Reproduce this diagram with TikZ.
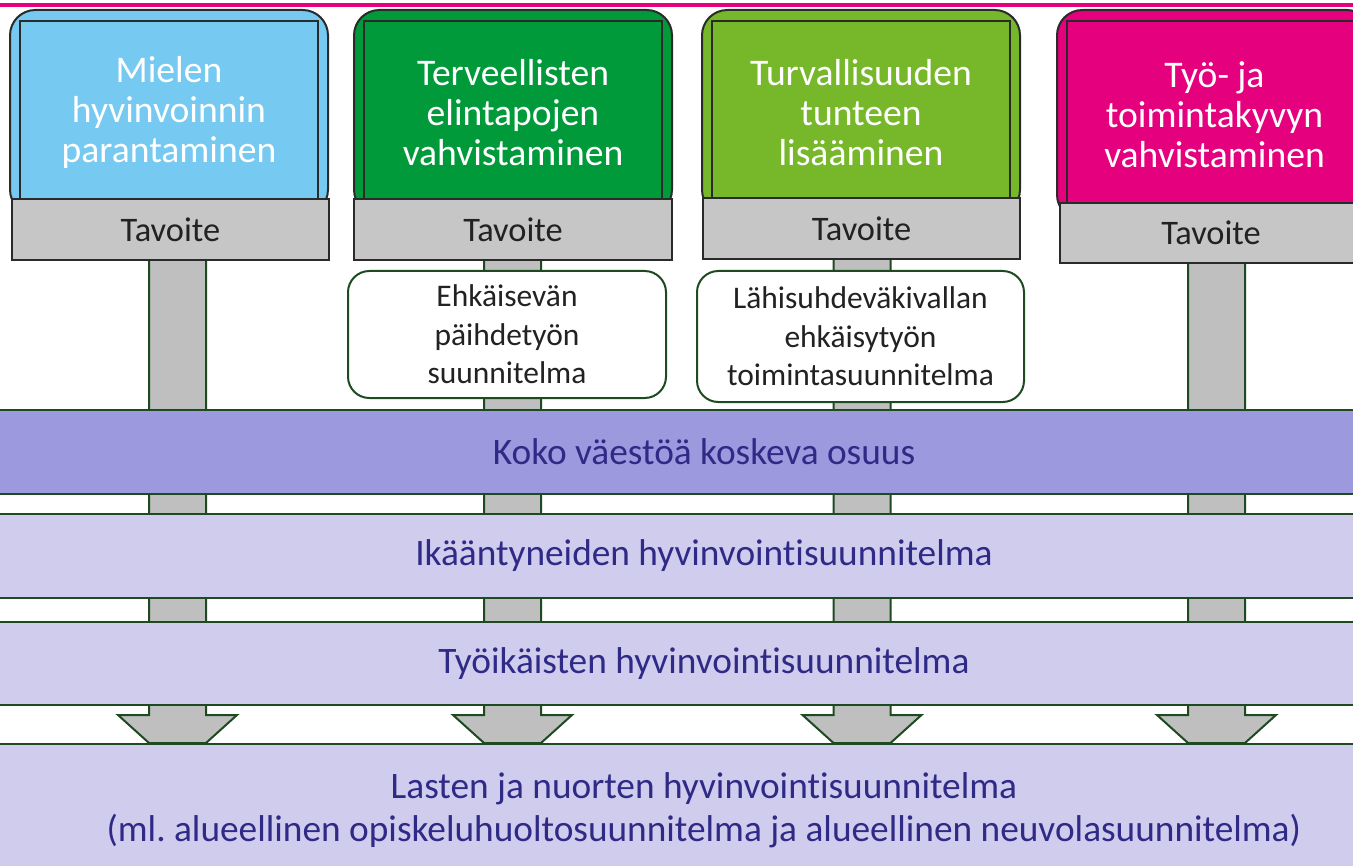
\documentclass[tikz,border=0pt]{standalone}
\usepackage{fontspec}
\setmainfont{Carlito}[Ligatures=NoCommon]

\definecolor{topline}{HTML}{E6007E}
\definecolor{mielblue}{HTML}{76C9F0}
\definecolor{elingreen}{HTML}{009A3A}
\definecolor{turvgreen}{HTML}{76B82A}
\definecolor{tyomagenta}{HTML}{E5007D}
\definecolor{boxedge}{HTML}{2A2A2A}
\definecolor{tavgray}{HTML}{C6C6C6}
\definecolor{tavtext}{HTML}{222222}
\definecolor{stemgray}{HTML}{BFBFBF}
\definecolor{stemedge}{HTML}{1E4A22}
\definecolor{kokoband}{HTML}{9C99DF}
\definecolor{planband}{HTML}{D0CCEE}
\definecolor{bandtext}{HTML}{2E2A86}

\begin{document}
\begin{tikzpicture}[x=0.75pt, y=-0.75pt,
    goal/.style = {draw=boxedge, line width=1.5pt, rounded corners=19pt, inner sep=0pt,
                   minimum width=238.5pt, minimum height=153.75pt,
                   text=white, align=center, font=\fontsize{28.2}{30}\selectfont},
    tavoite/.style = {draw=boxedge, fill=tavgray, line width=1.2pt, inner sep=0pt,
                      minimum width=237.75pt, minimum height=45.75pt,
                      text=tavtext, font=\fontsize{25.8}{29}\selectfont},
    plan/.style = {draw=stemedge, fill=white, line width=1.5pt, rounded corners=16pt, inner sep=0pt,
                   align=center, text=tavtext, font=\fontsize{23.6}{29}\selectfont},
    band/.style = {draw=stemedge, line width=1.5pt, inner sep=0pt, minimum width=1095pt,
                   minimum height=63pt, align=center,
                   text=bandtext, font=\fontsize{28}{32}\selectfont},
    stem/.style = {draw=stemedge, fill=stemgray, line width=1.5pt}]
    \useasboundingbox (0,0) rectangle (1353,866);
    \fill[white] (0,0) rectangle (1353,866);

    % stems with arrowheads
    \foreach \sx in {177.5, 512.5, 862, 1216.5}
        \draw[stem] (\sx-28.5,250) -- (\sx-28.5,715) -- (\sx-59.5,715) -- (\sx-28.5,743)
            -- (\sx+28.5,743) -- (\sx+59.5,715) -- (\sx+28.5,715) -- (\sx+28.5,250) -- cycle;

    % bands
    \node[band, fill=kokoband] (K) at (704,452) {Koko väestöä koskeva osuus};
    \node[band, fill=planband] (I) at (704,556) {Ikääntyneiden hyvinvointisuunnitelma};
    \node[band, fill=planband, minimum height=62.25pt] (T) at (704,663.5) {Työikäisten hyvinvointisuunnitelma};
    \node[band, fill=planband, minimum height=99pt] (L) at (704,810) {Lasten ja nuorten hyvinvointisuunnitelma\\
        (ml.\ alueellinen opiskeluhuoltosuunnitelma ja alueellinen neuvolasuunnitelma)};

    % goals
    \node[goal, fill=mielblue] (g1) at (169,112.5) {Mielen\\hyvinvoinnin\\parantaminen};
    \node[goal, fill=elingreen] (g2) at (513,112.5) {Terveellisten\\elintapojen\\vahvistaminen};
    \node[goal, fill=turvgreen] (g3) at (861,112.5) {Turvallisuuden\\tunteen\\lisääminen};
    \node[goal, fill=tyomagenta, minimum width=236.25pt, minimum height=157.5pt] (g4) at (1214.5,115)
        {Työ- ja\\toimintakyvyn\\vahvistaminen};
    \foreach \g in {g1, g2, g3, g4}
        \draw[boxedge, line width=1.2pt] ([shift={(11,0)}]\g.south west) |- ([shift={(-11,12)}]\g.north east)
            -- ([shift={(-11,0)}]\g.south east);

    \node[tavoite] (t1) at (170.5,229.5) {Tavoite};
    \node[tavoite, minimum width=238.5pt] (t2) at (513,229.5) {Tavoite};
    \node[tavoite] (t3) at (861.5,228.5) {Tavoite};
    \node[tavoite, minimum width=226.5pt, minimum height=45pt] (t4) at (1211,233) {Tavoite};

    % plans
    \node[plan, minimum width=238.5pt, minimum height=95.25pt] (p1) at (507,334.5)
        {Ehkäisevän\\päihdetyön\\suunnitelma};
    \node[plan, minimum width=245.25pt, minimum height=98.25pt] (p2) at (860.5,336.5)
        {Lähisuhdeväkivallan\\ehkäisytyön\\toimintasuunnitelma};

    \draw[topline, line width=2.6pt] (0,5) -- (1353,5);
\end{tikzpicture}
\end{document}
